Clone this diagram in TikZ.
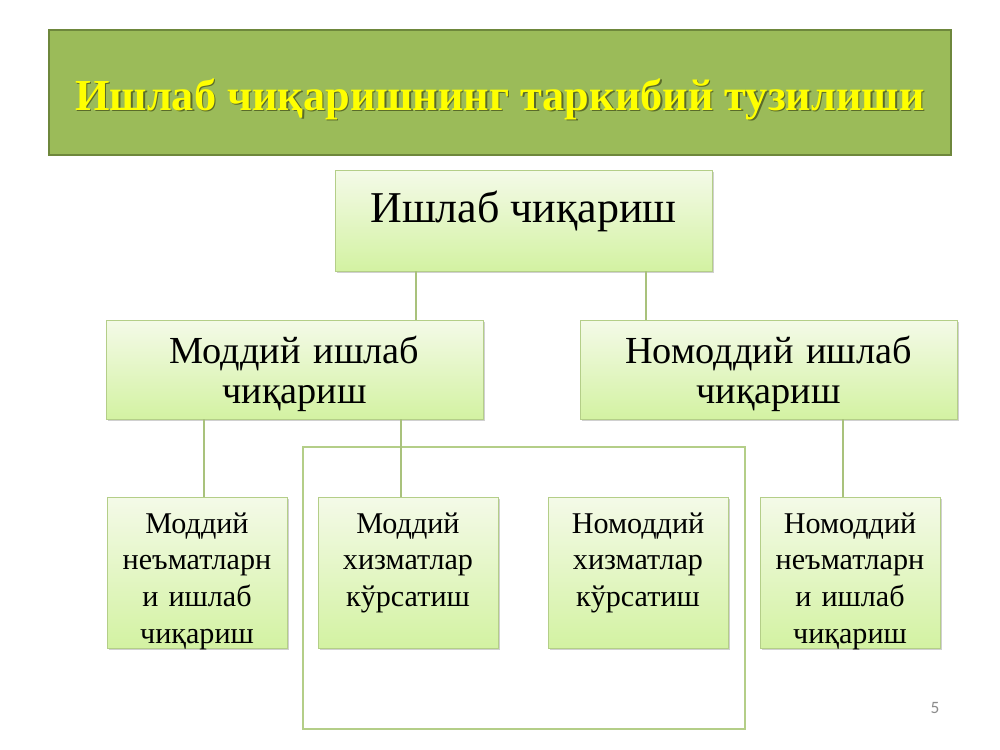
\documentclass[tikz,border=0pt]{standalone}
\usepackage{fontspec}
\setmainfont{Liberation Serif}
\newfontfamily\numfont{Carlito}
\usetikzlibrary{shadows}
\definecolor{titlefill}{HTML}{9BBB59}
\definecolor{titleline}{HTML}{6E873C}
\definecolor{titletext}{HTML}{FFFF00}
\definecolor{titleshadow}{HTML}{5A6B2A}
\definecolor{boxtop}{HTML}{F4FAE8}
\definecolor{boxbot}{HTML}{D3F2A2}
\definecolor{boxline}{HTML}{B4CE88}
\definecolor{conn}{HTML}{A9C27C}
\definecolor{pagenum}{HTML}{8C8C8C}
\begin{document}
\begin{tikzpicture}[x=0.75pt,y=-0.75pt,
  box/.style={draw=boxline, line width=0.6pt, top color=boxtop, bottom color=boxbot,
    inner sep=0pt, drop shadow={shadow xshift=1.8pt, shadow yshift=-1.8pt, opacity=0.3, fill=black!60}},
  bigbox/.style={box, minimum width=377*0.75pt, minimum height=100*0.75pt},
  smallbox/.style={box, minimum width=180*0.75pt, minimum height=151*0.75pt},
  toptext/.style={anchor=base, inner sep=0pt, font=\fontsize{33}{38}\selectfont},
  midtext/.style={anchor=base, inner sep=0pt, align=center, text width=370*0.75pt,
    font=\fontsize{28.7}{30}\selectfont},
  bottext/.style={anchor=base, inner sep=0pt, align=center, text width=178*0.75pt,
    font=\fontsize{22.6}{27.5}\selectfont},
  connector/.style={draw=conn, line width=1pt},
  outline/.style={draw=boxline, line width=1.1pt}
]
\useasboundingbox (0,0) rectangle (1000,750);
\fill[white] (0,0) rectangle (1000,750);

% title
\node[draw=titleline, line width=1.5pt, fill=titlefill, minimum width=902*0.75pt,
  minimum height=125*0.75pt, inner sep=0pt] (title) at (500,92.5) {};
\node[anchor=base, inner sep=0pt, text=titleshadow, font=\fontsize{33.2}{40}\bfseries\selectfont]
  at (501.5,111.5) {Ишлаб чиқаришнинг таркибий тузилиши};
\node[anchor=base, inner sep=0pt, text=titletext, font=\fontsize{33.2}{40}\bfseries\selectfont]
  (titletxt) at (500,110) {Ишлаб чиқаришнинг таркибий тузилиши};

% outline frame
\draw[outline] (303,447) rectangle (745,729);

% boxes
\node[bigbox, minimum height=101*0.75pt] (top) at (523.5,220.5) {};
\node[bigbox, minimum height=99*0.75pt] (ml) at (294.5,369.5) {};
\node[bigbox, minimum height=99*0.75pt] (mr) at (768.5,369.5) {};
\node[smallbox] (b1) at (197,572.5) {};
\node[smallbox] (b2) at (408,572.5) {};
\node[smallbox] (b3) at (638,572.5) {};
\node[smallbox] (b4) at (850,572.5) {};

% texts
\node[toptext] at (523.5,222) {Ишлаб чиқариш};
\node[midtext] at (294.5,363) {Моддий ишлаб\\чиқариш};
\node[midtext] at (768.5,363) {Номоддий ишлаб\\чиқариш};
\node[bottext] at (197,533) {Моддий\\неъматларн\\и ишлаб\\чиқариш};
\node[bottext] at (408,533) {Моддий\\хизматлар\\кўрсатиш};
\node[bottext] at (638,533) {Номоддий\\хизматлар\\кўрсатиш};
\node[bottext] at (850,533) {Номоддий\\неъматларн\\и ишлаб\\чиқариш};

% connectors
\coordinate (x1) at (416,0);
\coordinate (x2) at (646,0);
\coordinate (x3) at (204,0);
\coordinate (x4) at (401,0);
\coordinate (x5) at (843,0);
\draw[connector] (x1 |- top.south) -- (x1 |- ml.north);
\draw[connector] (x2 |- top.south) -- (x2 |- mr.north);
\draw[connector] (x3 |- ml.south) -- (x3 |- b1.north);
\draw[connector] (x4 |- ml.south) -- (x4 |- b2.north);
\draw[connector] (x5 |- mr.south) -- (x5 |- b4.north);

% page number
\node[text=pagenum, font=\numfont\fontsize{13}{15}\selectfont, inner sep=0pt] (pnum) at (935,708) {5};
\end{tikzpicture}
\end{document}
